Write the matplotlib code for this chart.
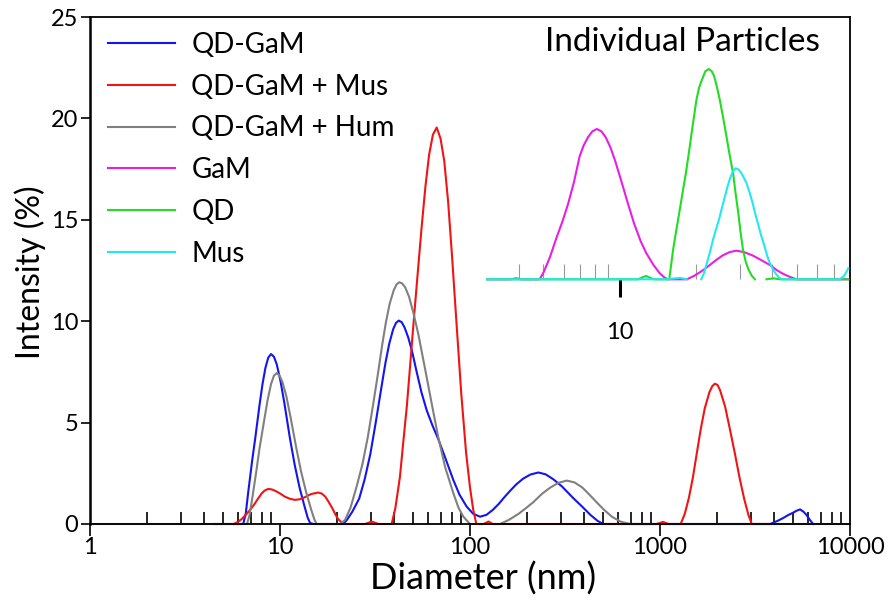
import numpy as np
import matplotlib
matplotlib.use('Agg')
import matplotlib.pyplot as plt
from matplotlib import ticker

plt.rcParams['font.family'] = ['Lato', 'DejaVu Sans']

nan = np.nan

# main plot: intensity (%) vs diameter (nm)
blue_d = [4.5, 6.0, 6.4, 6.6, 6.81, 7.0, 7.13, 7.4, 7.81, 8.09, 8.38, 8.67, 8.97,
          9.29, 9.61, 10.06, 10.54, 11.29, 11.96, 12.67, 13.43, 14.0, 14.4, 15.0,
          21.5, 22.5, 24, 26.1, 27.9, 29.9, 31.9, 34.3, 35.9, 37.6, 39.4, 40.8, 42.2,
          43.7, 45.2, 47.3, 49.6, 52.4, 55.5, 59.2, 63.5, 68, 74.5, 81.7, 88, 96, 104, 113,
          122, 132, 142, 150, 162, 175, 190, 208, 229, 250, 275, 305, 350, 390, 430, 470, 503,
          3800, 4150, 4460, 4750, 5000, 5250, 5460, 5700, 5900, 6150, 6400]
blue_i = [0, 0, 0, 0.5, 1.6, 2.5, 3.1, 4.2, 5.9, 6.9, 7.7, 8.2, 8.38,
          8.25, 7.88, 7.05, 5.97, 4.2, 2.9, 1.8, 0.9, 0.3, 0.05, 0,
          0, 0.2, 0.6, 1.25, 2.2, 3.46, 5.0, 6.83, 7.95, 8.9, 9.6, 9.92, 10.03,
          9.95, 9.7, 9.2, 8.5, 7.5, 6.5, 5.6, 4.85, 4.2, 3.2, 2.17, 1.45, 0.86, 0.5, 0.36,
          0.45, 0.7, 1.0, 1.27, 1.62, 1.95, 2.23, 2.44, 2.54, 2.45, 2.2, 1.85, 1.27, 0.85, 0.45, 0.15, 0,
          0, 0.15, 0.3, 0.45, 0.55, 0.66, 0.72, 0.6, 0.45, 0.2, 0]

red_d = [5.7, 6.0, 6.3, 6.6, 6.95, 7.3, 7.6, 8.0, 8.3, 8.68, 9.1, 9.6, 10.1, 10.6, 11.3, 12.0,
         12.7, 13.5, 14.6, 15.9, 16.6, 17.3, 18.0, 18.8, 19.5, 20.2, 21.5,
         28, 30.4, 33, 38.7, 40.5, 42.8, 44.5, 46.5, 48.3, 50.3, 53.1, 55.6, 58.2, 60.9, 63.8,
         66.8, 70.0, 73.2, 76.7, 80.3, 85.1, 90.0, 95.4, 100, 104, 108,
         118, 125, 132, 820, 960, 1037, 1110,
         1285, 1350, 1420, 1490, 1560, 1640, 1720, 1820, 1885, 1946, 2010, 2070, 2200, 2330,
         2480, 2620, 2780, 2920, 3040, 4000]
red_i = [0, 0.1, 0.25, 0.45, 0.69, 0.95, 1.2, 1.5, 1.65, 1.73, 1.7, 1.6, 1.48, 1.35, 1.24, 1.19,
         1.22, 1.32, 1.48, 1.55, 1.5, 1.35, 1.1, 0.8, 0.5, 0.25, 0,
         0, 0.12, 0, 0, 0.8, 2.34, 4.0, 5.8, 7.7, 9.77, 12.4, 14.6, 16.6, 18.2, 19.2,
         19.55, 19.0, 17.9, 15.9, 13.3, 9.77, 6.4, 3.5, 1.8, 0.7, 0,
         0, 0.12, 0, 0, 0, 0.1, 0,
         0, 0.5, 1.3, 2.3, 3.46, 4.7, 5.7, 6.5, 6.8, 6.92, 6.85, 6.6, 5.8, 4.7,
         3.46, 2.3, 1.2, 0.45, 0, 0]

gray_d = [1, 6.7, 6.9, 7.1, 7.45, 7.8, 8.2, 8.6, 8.97, 9.29, 9.6, 9.93, 10.3, 10.8, 11.4,
          12.2, 12.9, 13.7, 14.6, 15.2, 15.6,
          20.7, 22, 23.5, 25.4, 27.2, 29.0, 31, 32.8, 34.5, 36.1, 37.8, 39.7, 41.1, 42.5,
          44.0, 45.6, 47.8, 50.4, 53.4, 57.6, 62.8, 68, 74, 81.7, 87, 92.3, 100,
          144, 160, 180, 198, 215, 240, 265, 292, 323, 355, 390, 425, 464, 510, 560, 620,
          695, 10000]
gray_i = [0, 0, 0.4, 1.1, 2.4, 3.72, 4.95, 6.1, 6.9, 7.31, 7.44, 7.33, 7.0, 6.3, 5.2,
          3.72, 2.6, 1.6, 0.7, 0.2, 0,
          0, 0.2, 0.8, 1.9, 2.98, 4.3, 5.96, 7.44, 8.83, 9.95, 10.87, 11.53, 11.82, 11.92,
          11.86, 11.67, 11.2, 10.4, 9.38, 7.8, 5.96, 4.3, 2.8, 1.52, 0.8, 0.36, 0,
          0, 0.2, 0.5, 0.8, 1.07, 1.5, 1.8, 2.03, 2.14, 2.05, 1.8, 1.45, 1.07, 0.68, 0.35, 0.12,
          0, 0]

# inset: individual particles (no y scale shown)
gam_d = [3.0, 3.7, 3.9, 4.1, 4.83, 5.0, 5.3, 5.62, 5.95, 6.25, 6.6, 6.95, 7.2, 7.5, 7.8, 8.13,
         8.47, 8.8, 9.2, 9.6, 10.2, 10.8, 11.4, 12.1, 12.75, 13.6, 14.4, 15.0, 15.5,
         18.4, 19.5, 20.5, 21.6, 22.7, 24, 25.5, 27.2, 28.9, 31, 33.5, 36.3, 39.2, 41.5, 44, 47,
         49.9, 80]
gam_v = [0, 0, 0.1, 0, 0, 0.7, 2.3, 4.3, 6.1, 7.87, 10.2, 12.9, 14.0, 14.9, 15.5, 15.75,
         15.5, 14.9, 13.8, 12.4, 10.1, 7.87, 5.85, 4.0, 2.72, 1.5, 0.63, 0.2, 0,
         0, 0.3, 0.65, 1.05, 1.5, 2.0, 2.5, 2.85, 3.0, 2.85, 2.5, 2.0, 1.5, 1.0, 0.6, 0.25,
         0, 0]

qd_d = [3.0, 11.8, 12.7, 13.6, 15.7, 15.95, 16.25, 16.7, 17.2, 17.7, 18.23, 18.8, 19.4, 20.1,
        20.6, 21.2, 21.8, 22.5, 23.1, 23.6, 24.2, 24.86, 25.6, 26.4, 27.2, 28.1, 28.7, 29.4,
        30.0, 30.7, 31.5, 32.3, 33.2, 34.2, nan, 38, 40.5, 43, 80]
qd_v = [0, 0, 0.35, 0, 0, 1.4, 3.07, 5.0, 7.0, 9.0, 11.0, 13.4, 16.0, 18.8,
        20.1, 21.0, 21.8, 22.03, 21.8, 21.3, 20.2, 18.8, 17.0, 15.0, 13.0, 11.0, 9.0, 7.0,
        5.0, 3.07, 1.8, 1.0, 0.4, 0, nan, 0, 0.1, 0, 0]

mus_d = [3.0, 15.3, 17.3, 18.4, nan, 21.0, 21.5, 22.0, 22.7, 23.4, 24.0, 24.7, 25.3, 26.0,
         26.6, 27.3, 28.0, 28.7, 29.5, 30.3, 31.0, 31.7, 32.6, 33.5, 34.3, 35.2, 36.2, 37.3,
         38.2, 39.2, 40.2, 41.3, 42.4, 43.5, 74, 77, 80]
mus_v = [0, 0, 0.15, 0, nan, 0, 0.6, 1.5, 2.8, 4.2, 5.2, 6.3, 7.4, 8.6,
         9.6, 10.6, 11.3, 11.63, 11.5, 11.1, 10.6, 10.06, 9.1, 8.0, 6.9, 5.8, 4.6, 3.5,
         2.5, 1.68, 1.1, 0.6, 0.25, 0, 0, 0.35, 1.15]

x_ticks = [1, 10, 100, 1000, 10000]
x_tick_labels = ['1', '10', '100', '1000', '10000']
y_ticks = [0, 5, 10, 15, 20, 25]
inset_minor = [4, 5, 6, 7, 8, 9, 20, 30, 40, 50, 60, 70]

fig = plt.figure(figsize=(8.92, 6.0), dpi=100)
ax = fig.add_axes([90/892, 76/600, 760/892, 507/600])

h1, = ax.plot(blue_d, blue_i, color='#1414f0', lw=1.5, clip_on=False, label='QD-GaM')
h2, = ax.plot(red_d, red_i, color='#f01414', lw=1.5, clip_on=False, label='QD-GaM + Mus')
h3, = ax.plot(gray_d, gray_i, color='#808080', lw=1.5, clip_on=False, label='QD-GaM + Hum')

ax.set_xscale('log')
ax.set_xlim(1, 10000)
ax.set_ylim(0, 25)
ax.set_xticks(x_ticks)
ax.set_xticklabels(x_tick_labels)
ax.xaxis.set_minor_locator(ticker.LogLocator(base=10, subs=np.arange(2, 10), numticks=20))
ax.xaxis.set_minor_formatter(ticker.NullFormatter())
ax.set_yticks(y_ticks)
ax.tick_params(axis='x', which='major', direction='out', length=8.5, width=1.2, labelsize=17, pad=1)
ax.tick_params(axis='x', which='minor', direction='in', length=8.5, width=1.2)
ax.tick_params(axis='y', which='major', direction='out', length=6.5, width=1.2, labelsize=17, pad=2)
for s in ax.spines.values():
    s.set_linewidth(1.3)
ax.spines['left'].set_linewidth(1.8)

ax.set_xlabel('Diameter (nm)', fontsize=26)
ax.xaxis.set_label_coords(0.517, -0.074)
ax.set_ylabel('Intensity (%)', fontsize=23)
ax.yaxis.set_label_coords(-0.058, 0.497)

# inset
ins = fig.add_axes([487.3/892, 1 - 279.3/600, 361/892, 224.3/600], facecolor='none')
h4, = ins.plot(gam_d, gam_v, color='#e81ee8', lw=1.5, clip_on=False, label='GaM')
h5, = ins.plot(qd_d, qd_v, color='#22dd22', lw=1.5, clip_on=False, label='QD')
h6, = ins.plot(mus_d, mus_v, color='#22e8f0', lw=1.5, clip_on=False, label='Mus')
ins.set_xscale('log')
ins.set_xlim(3, 80)
ins.set_ylim(0, 23.5)
ins.set_xticks([10])
ins.set_xticklabels(['10'])
ins.set_xticks(inset_minor, minor=True)
ins.xaxis.set_minor_formatter(ticker.NullFormatter())
ins.tick_params(axis='x', which='major', direction='out', length=13, width=2.2, labelsize=17, pad=18)
ins.tick_params(axis='x', which='minor', direction='in', length=11, width=0.8, color='#999999')
ins.set_yticks([])
for s in ins.spines.values():
    s.set_visible(False)

fig.text(682/892, 1 - 42/600, 'Individual Particles', ha='center', va='center', fontsize=24)

ax.legend(handles=[h1, h2, h3, h4, h5, h6], loc='upper left', bbox_to_anchor=(0.0237, 0.971),
          frameon=False, fontsize=20, handlelength=2.4, handletextpad=0.6, labelspacing=0.57,
          borderpad=0, borderaxespad=0)

fig.savefig('out.png', dpi=100)
